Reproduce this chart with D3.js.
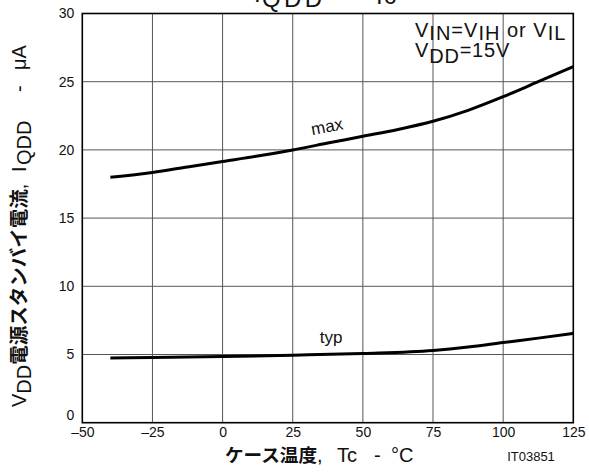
<!DOCTYPE html>
<html>
<head>
<meta charset="utf-8">
<script src="https://cdn.jsdelivr.net/npm/d3@7"></script>
<style>
  html, body { margin: 0; padding: 0; background: #fff; }
  svg { display: block; }
  text { font-family: "Liberation Sans", Arial, sans-serif; fill: #111; }
  .jp { font-family: "Noto Sans CJK JP", sans-serif; font-weight: 700; }
</style>
</head>
<body>
<svg id="chart" width="589" height="472"></svg>
<script>
// Case temperature (°C) and standby supply current (µA)
const maxTemp = [-40, -25, -12.5, 0, 12.5, 25, 37.5, 50, 62.5, 75, 87.5, 100, 112.5, 125];
const maxCurrent = [18.0, 18.35, 18.75, 19.15, 19.55, 20.0, 20.5, 21.0, 21.5, 22.1, 22.9, 23.9, 25.0, 26.1];
const typTemp = [-40, -25, 0, 25, 50, 75, 87.5, 100, 112.5, 125];
const typCurrent = [4.75, 4.78, 4.85, 4.95, 5.08, 5.3, 5.55, 5.88, 6.2, 6.55];
const xTicks = [-50, -25, 0, 25, 50, 75, 100, 125];
const yTicks = [0, 5, 10, 15, 20, 25, 30];

const svg = d3.select("#chart");
const plotL = 82.3, plotR = 573.3, plotT = 13.5, plotB = 422.7;

const x = d3.scaleLinear().domain([-50, 125]).range([plotL, plotR]);
const y = d3.scaleLinear().domain([0, 30]).range([plotB, plotT]);

// grid
const grid = svg.append("g").attr("stroke", "#555").attr("stroke-width", 1);
grid.selectAll("line.v").data(xTicks.slice(1, -1)).join("line")
  .attr("x1", d => x(d)).attr("x2", d => x(d))
  .attr("y1", plotT).attr("y2", plotB);
grid.selectAll("line.h").data(yTicks.slice(1, -1)).join("line")
  .attr("y1", d => y(d)).attr("y2", d => y(d))
  .attr("x1", plotL).attr("x2", plotR);

// frame
svg.append("rect")
  .attr("x", plotL).attr("y", plotT)
  .attr("width", plotR - plotL).attr("height", plotB - plotT)
  .attr("fill", "none").attr("stroke", "#000").attr("stroke-width", 1.6);

// axes tick labels
const xAxis = d3.axisBottom(x).tickValues(xTicks).tickSize(0).tickPadding(4)
  .tickFormat(d => d < 0 ? "\u2013" + Math.abs(d) : String(d));
const gx = svg.append("g").attr("transform", `translate(0,${plotB})`).call(xAxis);
gx.select(".domain").remove();
gx.selectAll("text").attr("font-size", 14).attr("font-family", "Liberation Sans, Arial, sans-serif").attr("fill", "#111");

const yAxis = d3.axisLeft(y).tickValues(yTicks).tickSize(0).tickPadding(8);
const gy = svg.append("g").attr("transform", `translate(${plotL},0)`).call(yAxis);
gy.select(".domain").remove();
gy.selectAll("text").attr("font-size", 14).attr("font-family", "Liberation Sans, Arial, sans-serif").attr("fill", "#111")
  .attr("dy", d => d === 0 ? "-0.25em" : "0.32em");

// curves
const line = d3.line().x(d => x(d[0])).y(d => y(d[1])).curve(d3.curveMonotoneX);
svg.append("path").datum(d3.zip(maxTemp, maxCurrent))
  .attr("d", line).attr("fill", "none").attr("stroke", "#000").attr("stroke-width", 3);
svg.append("path").datum(d3.zip(typTemp, typCurrent))
  .attr("d", line).attr("fill", "none").attr("stroke", "#000").attr("stroke-width", 3);

// curve labels
svg.append("text").attr("font-size", 17)
  .attr("transform", `translate(${x(37.6)},${y(21.3)}) rotate(-11)`)
  .attr("text-anchor", "middle").text("max");
svg.append("text").attr("font-size", 17)
  .attr("x", x(38.7)).attr("y", y(5.84))
  .attr("text-anchor", "middle").text("typ");

// conditions
function sub(t, parts, dyDown) {
  parts.forEach(([s, isSub]) => {
    t.append("tspan").attr("baseline-shift", isSub ? -dyDown : 0).text(s);
  });
}
const c1 = svg.append("text").attr("font-size", 20).attr("letter-spacing", 1.0)
  .attr("x", 415).attr("y", 37);
sub(c1, [["V", 0], ["IN", 1], ["=V", 0], ["IH", 1], [" or V", 0], ["IL", 1]], 2.5);
const c2 = svg.append("text").attr("font-size", 20).attr("letter-spacing", 0.8)
  .attr("x", 415).attr("y", 57);
sub(c2, [["V", 0], ["DD", 1], ["=15V", 0]], 6);

// title (partly above the frame)
svg.append("text").attr("font-size", 24).attr("x", 254).attr("y", 2).text("I");
svg.append("text").attr("font-size", 24).attr("x", 262).attr("y", 7)
  .attr("textLength", 60).attr("lengthAdjust", "spacing").text("QDD");
svg.append("text").attr("font-size", 24).attr("x", 340).attr("y", 0).text("\u2013");
svg.append("text").attr("font-size", 24).attr("x", 372).attr("y", 4).text("Tc");

// y axis title, laid out along the rotated baseline (x here = -page y)
const yl = svg.append("text").attr("font-size", 20)
  .attr("transform", "translate(26,0) rotate(-90)");
yl.append("tspan").attr("x", -407).text("V");
yl.append("tspan").attr("dy", 5).text("DD");
yl.append("tspan").attr("class", "jp").attr("dy", -5).attr("font-size", 19.5)
  .text("電源スタンバイ電流");
yl.append("tspan").text(",");
yl.append("tspan").attr("x", -172).text("I");
yl.append("tspan").attr("x", -165).attr("dy", 5).text("QDD");
yl.append("tspan").attr("x", -92).attr("dy", -5).text("-");
yl.append("tspan").attr("x", -70).text("\u03bcA");

// x axis title
const xl = svg.append("text").attr("font-size", 20).attr("y", 462);
xl.append("tspan").attr("class", "jp").attr("font-size", 18.6).attr("x", 225).text("ケース温度");
xl.append("tspan").text(",");
xl.append("tspan").attr("x", 337).text("Tc");
xl.append("tspan").attr("x", 374).text("-");
xl.append("tspan").attr("x", 391).text("°C");

svg.append("text").attr("font-size", 13).attr("x", 531).attr("y", 461)
  .attr("text-anchor", "middle").text("IT03851");
</script>
</body>
</html>
